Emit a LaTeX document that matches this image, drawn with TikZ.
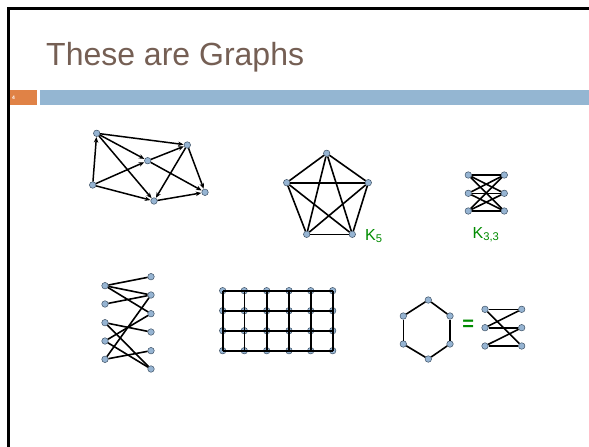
\documentclass[tikz,border=0pt]{standalone}
\usepackage{fontspec}
\setmainfont{Liberation Sans}
\usetikzlibrary{arrows.meta}
\definecolor{titlecol}{RGB}{117,95,84}
\definecolor{barblue}{RGB}{148,182,210}
\definecolor{barorange}{RGB}{224,130,70}
\definecolor{vfill}{RGB}{150,180,210}
\definecolor{vline}{RGB}{60,80,100}
\definecolor{labgreen}{RGB}{0,140,0}
\tikzset{
  vtx/.style={circle,inner sep=0pt,minimum size=6.5pt,fill=vfill,draw=vline,line width=0.5pt},
  edge/.style={line width=1.6pt,black},
  dedge/.style={line width=1.5pt,black,-{Stealth[length=5.5pt,width=4.5pt]},shorten >=0.3pt},
  glabel/.style={text=labgreen,font=\fontsize{16}{18}\selectfont,inner sep=0pt}
}
\begin{document}
\begin{tikzpicture}[x=1pt,y=-1pt]
\useasboundingbox (0,0) rectangle (589,447);
\fill[white] (-2,-2) rectangle (591,449);
% slide frame
\fill[black] (7.2,7.2) rectangle (592,10);
\fill[black] (7.2,7.2) rectangle (10,449);
% title
\node[anchor=base west,text=titlecol,font=\fontsize{32}{36}\selectfont,inner sep=0pt] (title) at (46,65) {These are Graphs};
% bars
\fill[barorange] (10,89.5) rectangle (37.3,105);
\node[text=white,font=\fontsize{5}{6}\selectfont\bfseries,inner sep=0pt] (pnum) at (13.5,97.3) {4};
\fill[barblue] (40,89.5) rectangle (592,105);

% directed graph
\node[vtx] (A) at (96.7,133.3) {};
\node[vtx] (B) at (187.3,145) {};
\node[vtx] (C) at (147.7,160.7) {};
\node[vtx] (D) at (92.7,185) {};
\node[vtx] (E) at (154,201) {};
\node[vtx] (F) at (205,192.3) {};
\foreach \s/\t in {D/A,A/B,A/C,A/E,D/C,D/E,C/B,C/F,B/F,B/E,E/F}
  \draw[dedge] (\s) -- (\t);

% K5
\node[vtx] (k1) at (326.7,153.3) {};
\node[vtx] (k2) at (286.7,182.7) {};
\node[vtx] (k3) at (368.3,182.7) {};
\node[vtx] (k4) at (306.7,234.3) {};
\node[vtx] (k5) at (352.3,234.3) {};
\foreach \s/\t in {k1/k2,k1/k3,k1/k4,k1/k5,k2/k3,k2/k4,k2/k5,k3/k4,k3/k5,k4/k5}
  \draw[edge] (\s) -- (\t);
\node[glabel,anchor=base west] (k5lab) at (365,240) {K\textsubscript{5}};

% K3,3
\foreach \i/\y in {1/175,2/193.3,3/211}{
  \node[vtx] (p\i) at (468.3,\y) {};
  \node[vtx] (q\i) at (504.3,\y) {};
}
\foreach \i in {1,2,3}
  \foreach \j in {1,2,3}
    \draw[edge] (p\i) -- (q\j);
\node[glabel,anchor=base] (k33lab) at (486,238) {K\textsubscript{3,3}};

% bipartite
\foreach \i/\y in {1/285.7,2/304,3/322.7,4/341,5/359.3}
  \node[vtx] (l\i) at (105,\y) {};
\foreach \i/\y in {1/276.7,2/295,3/313.7,4/332,5/350.7,6/369}
  \node[vtx] (r\i) at (151,\y) {};
\foreach \s/\t in {l1/r1,l1/r2,l1/r3,l2/r2,l3/r4,l3/r6,l4/r3,l4/r6,l5/r2,l5/r5}
  \draw[edge] (\s) -- (\t);

% grid
\foreach \i/\x in {1/222.7,2/244.3,3/266.7,4/289,5/310.7,6/332.7}
  \foreach \j/\y in {1/290.7,2/310.7,3/330.7,4/350.7}
    \node[vtx] (g\i\j) at (\x,\y) {};
\foreach \j in {1,2,3,4}
  \draw[edge] (g1\j.center) -- (g6\j.center);
\foreach \i in {1,...,6}
  \draw[edge] (g\i1.center) -- (g\i4.center);

% hexagon
\node[vtx] (h1) at (428.3,300) {};
\node[vtx] (h2) at (450,316) {};
\node[vtx] (h3) at (450,344) {};
\node[vtx] (h4) at (428.3,359) {};
\node[vtx] (h5) at (403.3,344) {};
\node[vtx] (h6) at (403.3,316) {};
\foreach \s/\t in {h1/h2,h2/h3,h3/h4,h4/h5,h5/h6,h6/h1}
  \draw[edge] (\s) -- (\t);
\node[text=labgreen,font=\fontsize{20}{22}\selectfont\bfseries,inner sep=0pt] (eq) at (468.3,325.7) {=};

% bipartite hexagon
\foreach \i/\y in {1/309.3,2/327.7,3/346}{
  \node[vtx] (u\i) at (485,\y) {};
  \node[vtx] (w\i) at (521.7,\y) {};
}
\foreach \s/\t in {u1/w1,w1/u2,u2/w2,w2/u3,u3/w3,w3/u1}
  \draw[edge] (\s) -- (\t);
\end{tikzpicture}
\end{document}
